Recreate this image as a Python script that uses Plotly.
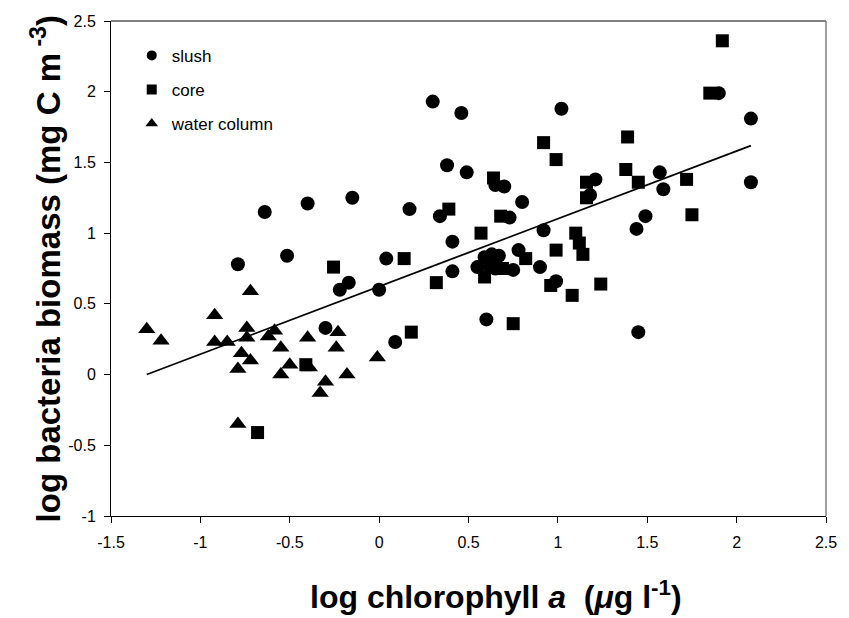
import plotly.graph_objects as go
import numpy as np

# ---- data (log chlorophyll a, log bacteria biomass) ----
slush_x = [-0.79, -0.64, -0.515, -0.40, -0.15, -0.22, -0.17, 0.00, 0.04, 0.09, -0.30,
           0.30, 0.46, 1.02, 0.38, 0.49, 0.65, 0.70, 0.80, 0.17, 0.34, 0.73, 0.92,
           0.41, 0.41, 0.55, 0.59, 0.63, 0.67, 0.65, 0.75, 0.78, 0.90, 0.99, 0.60,
           1.45, 1.44, 1.49, 1.18, 1.21, 1.57, 1.59, 1.90, 2.08, 2.08]
slush_y = [0.78, 1.15, 0.84, 1.21, 1.25, 0.60, 0.65, 0.60, 0.82, 0.23, 0.33,
           1.93, 1.85, 1.88, 1.48, 1.43, 1.34, 1.33, 1.22, 1.17, 1.12, 1.11, 1.02,
           0.94, 0.73, 0.76, 0.83, 0.85, 0.84, 0.75, 0.74, 0.88, 0.76, 0.66, 0.39,
           0.30, 1.03, 1.12, 1.27, 1.38, 1.43, 1.31, 1.99, 1.81, 1.36]

core_x = [-0.255, -0.68, -0.41, 0.14, 0.18, 0.32, 0.39, 0.57, 0.64, 0.68, 0.59,
          0.62, 0.69, 0.75, 0.82, 0.92, 0.99, 0.96, 0.99, 1.08, 1.10, 1.12, 1.14,
          1.16, 1.16, 1.24, 1.38, 1.39, 1.45, 1.72, 1.75, 1.85, 1.92]
core_y = [0.76, -0.41, 0.07, 0.82, 0.30, 0.65, 1.17, 1.00, 1.39, 1.12, 0.69,
          0.76, 0.75, 0.36, 0.82, 1.64, 1.52, 0.63, 0.88, 0.56, 1.00, 0.93, 0.85,
          1.36, 1.25, 0.64, 1.45, 1.68, 1.36, 1.38, 1.13, 1.99, 2.36]

water_x = [-1.30, -1.22, -0.92, -0.92, -0.85, -0.74, -0.74, -0.77, -0.72, -0.79,
           -0.79, -0.72, -0.585, -0.62, -0.55, -0.55, -0.50, -0.39, -0.40, -0.23,
           -0.24, -0.30, -0.33, -0.18, -0.01]
water_y = [0.32, 0.24, 0.42, 0.23, 0.23, 0.33, 0.26, 0.15, 0.10, 0.04,
           -0.35, 0.59, 0.31, 0.27, 0.19, 0.00, 0.07, 0.05, 0.26, 0.30,
           0.19, -0.05, -0.13, 0.00, 0.12]

# regression line coefficients
fit_intercept = 0.623
fit_slope = 0.479

series_names = ["slush", "core", "water column"]

x_ticks = [-1.5, -1, -0.5, 0, 0.5, 1, 1.5, 2, 2.5]
y_ticks = [-1, -0.5, 0, 0.5, 1, 1.5, 2, 2.5]

x_title = "<b>log chlorophyll <i>a</i>  (<i>μ</i>g l<sup>-1</sup>)</b>"
y_title = "<b>log bacteria biomass (mg C m<sup> -3</sup>)</b>"

FONT = "Liberation Sans, Arial, sans-serif"

fig = go.Figure()

specs = [(slush_x, slush_y, "circle", 14),
         (core_x, core_y, "square", 13),
         (water_x, water_y, "triangle-up", 15)]

for (xs, ys, sym, sz), name in zip(specs, series_names):
    fig.add_trace(go.Scatter(x=xs, y=ys, mode="markers", name=name, showlegend=False,
                             marker=dict(symbol=sym, size=sz, color="black",
                                         line=dict(width=0))))

# regression line over the data range
all_x = np.array(slush_x + core_x + water_x)
lx = np.array([all_x.min(), all_x.max()])
fig.add_trace(go.Scatter(x=lx, y=fit_intercept + fit_slope * lx, mode="lines",
                         line=dict(color="black", width=1.8), showlegend=False,
                         hoverinfo="skip"))

# legend-only entries with smaller markers
leg_sizes = [10, 10, 11]
for (xs, ys, sym, sz), name, ls in zip(specs, series_names, leg_sizes):
    fig.add_trace(go.Scatter(x=[None], y=[None], mode="markers", name=name,
                             legendgroup=name,
                             marker=dict(symbol=sym, size=ls, color="black")))

fig.update_layout(
    width=849, height=618,
    margin=dict(l=111, r=14, t=21, b=102),
    paper_bgcolor="white", plot_bgcolor="white",
    font=dict(family=FONT, size=16, color="black"),
    showlegend=True,
    legend=dict(x=0.029, y=0.966, xanchor="left", yanchor="top",
                bgcolor="rgba(0,0,0,0)", itemwidth=30, tracegroupgap=9,
                font=dict(family=FONT, size=17, color="black")),
    xaxis=dict(range=[-1.5, 2.5], tickvals=x_ticks,
               ticktext=[f"{v:g}" for v in x_ticks],
               showgrid=False, zeroline=False, showline=True, linecolor="black",
               linewidth=1, ticks="outside", ticklen=6, tickcolor="black",
               tickfont=dict(size=16), ticklabelstandoff=6),
    yaxis=dict(range=[-1, 2.5], tickvals=y_ticks,
               ticktext=[f"{v:g}" for v in y_ticks],
               showgrid=False, zeroline=False, showline=True, linecolor="black",
               linewidth=1, ticks="outside", ticklen=6, tickcolor="black",
               tickfont=dict(size=16), ticklabelstandoff=5),
    shapes=[
        dict(type="line", xref="paper", yref="paper", x0=0, x1=1, y0=1, y1=1,
             line=dict(color="black", width=1)),
        dict(type="line", xref="paper", yref="paper", x0=1, x1=1, y0=0, y1=1,
             line=dict(color="#808080", width=1.5)),
    ],
    annotations=[
        dict(text=x_title, xref="paper", yref="paper", x=0.538, y=-0.16,
             xanchor="center", yanchor="middle", showarrow=False,
             font=dict(size=32, family=FONT, color="black")),
        dict(text=y_title, xref="paper", yref="paper", x=-0.091, y=0.5,
             xanchor="center", yanchor="middle", textangle=-90, showarrow=False,
             font=dict(size=33, family=FONT, color="black")),
    ],
)

fig.write_html("out.html")
